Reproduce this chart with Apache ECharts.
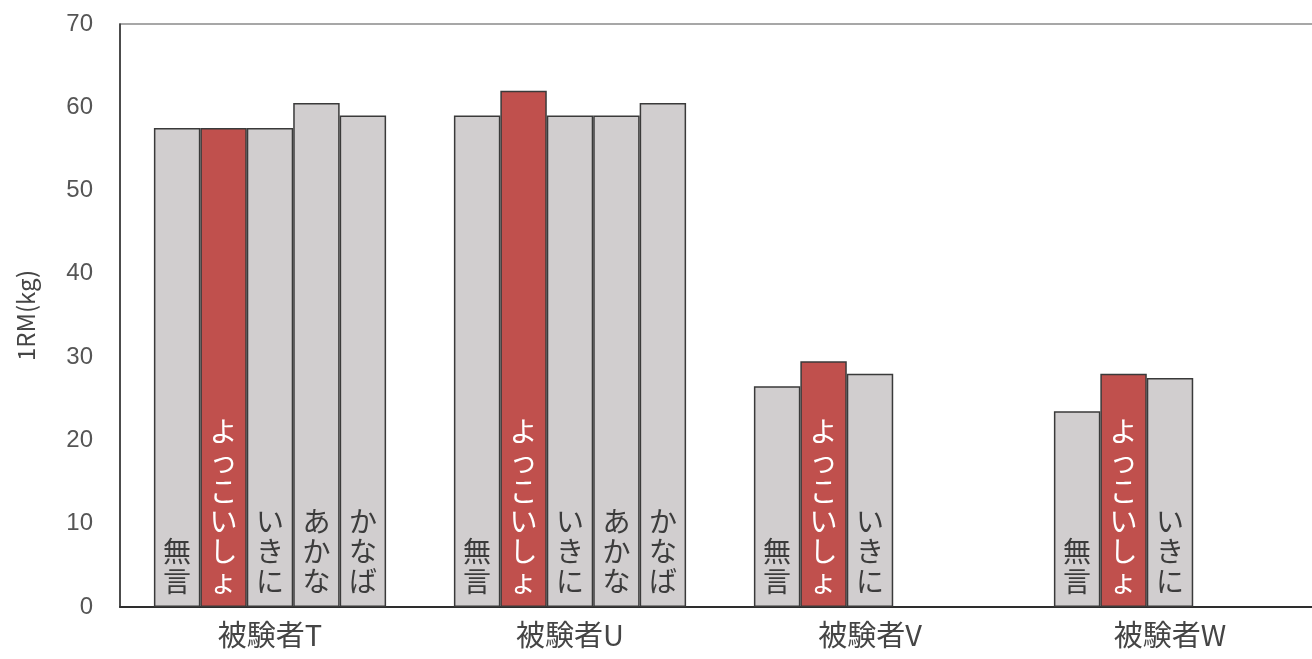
<!DOCTYPE html>
<html>
<head>
<meta charset="utf-8">
<script src="https://cdn.jsdelivr.net/npm/echarts@6/dist/echarts.min.js"></script>
<style>
  html, body { margin: 0; padding: 0; background: #ffffff; }
  #chart { width: 1312px; height: 659px; }
</style>
</head>
<body>
<div id="chart"></div>
<script>
// Subjects along the x axis
const subjects = ['被験者T', '被験者U', '被験者V', '被験者W'];
// Spoken cue conditions, one bar series each
const conditions = ['無言', 'よっこいしょ', 'いきに', 'あかな', 'かなば'];
// 1RM (kg) per subject for each condition (null = not measured)
const mugon     = [57.5, 59,   26.5, 23.5];
const yokkoisho = [57.5, 62,   29.5, 28];
const ikini     = [57.5, 59,   28,   27.5];
const akana     = [60.5, 59,   null, null];
const kanaba    = [59,   60.5, null, null];
// y axis ticks
const yMin = 0, yMax = 70, yStep = 10;

const seriesValues = [mugon, yokkoisho, ikini, akana, kanaba];
const FONT = '"Noto Sans CJK JP", "Noto Sans", sans-serif';
const GRAY = '#d1cecf';
const RED = '#c0504d';

const chart = echarts.init(document.getElementById('chart'), null, { renderer: 'canvas' });

const series = conditions.map((name, i) => {
  const highlight = i === 1;
  return {
    name: name,
    type: 'bar',
    data: seriesValues[i],
    barGap: '0%',
    barCategoryGap: '22.6%',
    itemStyle: {
      color: highlight ? RED : GRAY,
      borderColor: '#3a3a3a',
      borderWidth: 1.5
    },
    label: {
      show: true,
      position: 'insideBottom',
      distance: 11,
      formatter: () => name.split('').join('\n'),
      fontFamily: FONT,
      fontSize: 28,
      lineHeight: 30,
      color: highlight ? '#ffffff' : '#3c3c3c'
    },
    emphasis: { disabled: true },
    animation: false
  };
});

chart.setOption({
  backgroundColor: '#ffffff',
  animation: false,
  grid: {
    left: 120,
    top: 24,
    width: 1200,
    bottom: 52,
    outerBoundsMode: 'none',
    show: true,
    borderColor: '#8a8a8a',
    borderWidth: 1.5,
    backgroundColor: 'transparent'
  },
  xAxis: {
    type: 'category',
    data: subjects,
    axisLine: { show: true, lineStyle: { color: '#2e2e2e', width: 2 } },
    axisTick: { show: false },
    axisLabel: {
      fontFamily: FONT,
      fontSize: 29,
      color: '#454545',
      margin: 13
    },
    splitLine: { show: false }
  },
  yAxis: {
    type: 'value',
    min: yMin,
    max: yMax,
    interval: yStep,
    name: '1RM(kg)',
    nameLocation: 'middle',
    nameRotate: 90,
    nameGap: 82,
    nameTextStyle: { fontFamily: FONT, fontSize: 24, color: '#454545' },
    axisLine: { show: true, lineStyle: { color: '#2e2e2e', width: 1.5 } },
    axisTick: { show: false },
    axisLabel: {
      fontFamily: '"Liberation Sans", Arial, sans-serif',
      fontSize: 24,
      color: '#555555',
      margin: 27
    },
    splitLine: { show: false }
  },
  series: series
});
</script>
</body>
</html>
